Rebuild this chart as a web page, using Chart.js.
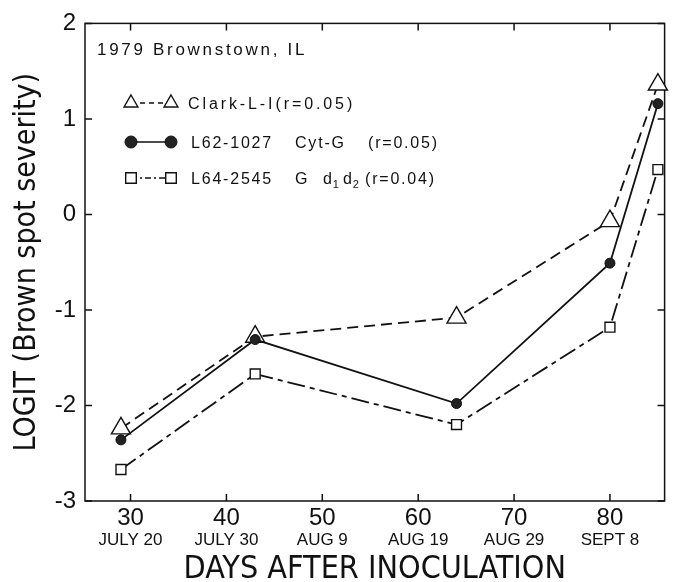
<!DOCTYPE html>
<html><head><meta charset="utf-8">
<script src="https://cdn.jsdelivr.net/npm/chart.js@4/dist/chart.umd.min.js"></script>
<style>html,body{margin:0;padding:0;background:#fff;}#wrap{width:677px;height:582px;}</style>
</head><body><div id="wrap"><canvas id="c" width="677" height="582"></canvas></div>
<script>
// ---- data ----
const days = [29, 43, 64, 80, 85];
const clarkValues = [-2.24, -1.28, -1.08, -0.07, 1.36];
const l62Values = [-2.36, -1.31, -1.98, -0.51, 1.16];
const l64Values = [-2.67, -1.67, -2.20, -1.18, 0.47];
const xTickValues = [30, 40, 50, 60, 70, 80];
const xDateLabels = ['JULY 20', 'JULY 30', 'AUG 9', 'AUG 19', 'AUG 29', 'SEPT 8'];
const yTickValues = [-3, -2, -1, 0, 1, 2];
const seriesNames = ['Clark-L-I(r=0.05)', 'L62-1027 Cyt-G  (r=0.05)', 'L64-2545 G   d1 d2(r=0.04)'];
const siteLabel = '1979 Brownstown, IL';
const xTitle = 'DAYS AFTER INOCULATION';
const yTitle = 'LOGIT (Brown spot severity)';
const xMin = 25.25, xMax = 85.7, yMin = -3, yMax = 2;

// ---- styles ----
const INK = '#111';
const SANS = '"Liberation Sans", Arial, sans-serif';
const NARROW = '"Liberation Sans Narrow", "DejaVu Sans Condensed", "Liberation Sans", sans-serif';
const pts = vals => days.map((d, i) => ({x: d, y: vals[i]}));

const framePlugin = {
  id: 'frame',
  beforeDatasetsDraw(chart) {
    const {ctx, chartArea: a, scales} = chart;
    ctx.save();
    ctx.strokeStyle = INK; ctx.lineWidth = 1.5; ctx.setLineDash([]);
    ctx.strokeRect(a.left, a.top, a.right - a.left, a.bottom - a.top);
    const L = 7;
    ctx.beginPath();
    scales.x.ticks.forEach(t => {
      const px = scales.x.getPixelForValue(t.value);
      ctx.moveTo(px, a.bottom); ctx.lineTo(px, a.bottom - L);
      ctx.moveTo(px, a.top); ctx.lineTo(px, a.top + L);
    });
    scales.y.ticks.forEach(t => {
      const py = scales.y.getPixelForValue(t.value);
      ctx.moveTo(a.left, py); ctx.lineTo(a.left + L, py);
      ctx.moveTo(a.right, py); ctx.lineTo(a.right - L, py);
    });
    ctx.stroke();
    ctx.restore();
  }
};

function drawText(ctx, t, x, y, size, ls) {
  ctx.font = size + 'px ' + SANS;
  ctx.letterSpacing = ls + 'px';
  ctx.fillText(t, x, y);
}

const legendPlugin = {
  id: 'insideLegend',
  afterDraw(chart) {
    const {ctx} = chart;
    const dss = chart.data.datasets;
    ctx.save();
    ctx.fillStyle = INK; ctx.textBaseline = 'alphabetic'; ctx.textAlign = 'left';
    drawText(ctx, siteLabel, 97, 55, 17, 2.7);
    const rows = [
      {y: 103, r: 8, dash: [5, 4], segs: [{t: 'Clark-L-I(r=0.05)', x: 188, ls: 2.9}]},
      {y: 142, r: 6, dash: [], segs: [{t: 'L62-1027', x: 191}, {t: 'Cyt-G', x: 295}, {t: '(r=0.05)', x: 368}]},
      {y: 178, r: 7.5, dash: [6, 3, 2, 3], segs: [{t: 'L64-2545', x: 191}, {t: 'G', x: 295}, {t: 'd', x: 323, sub: '1'}, {t: 'd', x: 343, sub: '2'}, {t: '(r=0.04)', x: 365}]}
    ];
    rows.forEach((row, i) => {
      const ds = dss[i];
      ctx.save();
      ctx.strokeStyle = INK; ctx.lineWidth = 1.6; ctx.setLineDash(row.dash);
      ctx.beginPath(); ctx.moveTo(131, row.y); ctx.lineTo(171, row.y); ctx.stroke();
      ctx.setLineDash([]);
      [131, 171].forEach(mx => {
        ctx.fillStyle = ds.pointBackgroundColor; ctx.strokeStyle = ds.pointBorderColor; ctx.lineWidth = ds.pointBorderWidth;
        Chart.helpers.drawPoint(ctx, {pointStyle: ds.pointStyle, radius: row.r, rotation: 0, borderWidth: ds.pointBorderWidth}, mx, row.y);
      });
      ctx.restore();
      ctx.fillStyle = INK;
      row.segs.forEach(s => {
        drawText(ctx, s.t, s.x, row.y + 5.5, 16, s.ls !== undefined ? s.ls : 1.8);
        if (s.sub) {
          const w = ctx.measureText(s.t).width;
          drawText(ctx, s.sub, s.x + w - 1, row.y + 9.5, 11, 0);
        }
      });
    });
    ctx.restore();
  }
};

new Chart(document.getElementById('c'), {
  type: 'line',
  data: {
    datasets: [
      {label: seriesNames[0], data: pts(clarkValues), borderColor: INK, borderWidth: 1.8, borderDash: [11, 6],
       pointStyle: 'triangle', pointRadius: 11, pointBackgroundColor: '#fff', pointBorderColor: INK, pointBorderWidth: 1.4,
       fill: false, tension: 0, order: 3, clip: false},
      {label: seriesNames[1], data: pts(l62Values), borderColor: INK, borderWidth: 1.8, borderDash: [],
       pointStyle: 'circle', pointRadius: 5, pointBackgroundColor: '#222', pointBorderColor: INK, pointBorderWidth: 1,
       fill: false, tension: 0, order: 1, clip: false},
      {label: seriesNames[2], data: pts(l64Values), borderColor: INK, borderWidth: 1.8, borderDash: [18, 5, 5, 5],
       pointStyle: 'rect', pointRadius: 7, pointBackgroundColor: '#fff', pointBorderColor: INK, pointBorderWidth: 1.4,
       fill: false, tension: 0, order: 2, clip: false}
    ]
  },
  options: {
    responsive: false, animation: false, devicePixelRatio: 1,
    layout: {padding: {top: 18, right: 7, left: 0, bottom: 0}},
    plugins: {legend: {display: false}, tooltip: {enabled: false}},
    scales: {
      x: {type: 'linear', position: 'bottom', min: xMin, max: xMax,
          afterBuildTicks: s => { s.ticks = xTickValues.map(v => ({value: v})); },
          ticks: {font: {family: SANS, size: 24}, color: INK, padding: 3, maxRotation: 0, callback: v => String(v)},
          grid: {display: false, drawTicks: false}, border: {display: false},
          afterFit: s => { s.height = 29; }},
      x2: {type: 'linear', position: 'bottom', min: xMin, max: xMax,
          afterBuildTicks: s => { s.ticks = xTickValues.map(v => ({value: v})); },
          ticks: {font: {family: SANS, size: 17}, color: INK, padding: 0, maxRotation: 0, callback: (v, i) => xDateLabels[i]},
          grid: {display: false, drawTicks: false}, border: {display: false},
          title: {display: true, text: xTitle, color: INK, font: {family: NARROW, size: 32, lineHeight: 0.8}, padding: {top: 0, bottom: 0}},
          afterFit: s => { s.height = 52; }},
      y: {type: 'linear', position: 'left', min: yMin, max: yMax,
          afterBuildTicks: s => { s.ticks = yTickValues.map(v => ({value: v})); },
          ticks: {font: {family: SANS, size: 24}, color: INK, padding: 9},
          grid: {display: false, drawTicks: false}, border: {display: false},
          title: {display: true, text: yTitle, color: INK, font: {family: NARROW, size: 30, lineHeight: 1}, padding: {top: 12, bottom: 0}},
          afterFit: s => { s.width = 85; }}
    }
  },
  plugins: [framePlugin, legendPlugin]
});
</script></body></html>
